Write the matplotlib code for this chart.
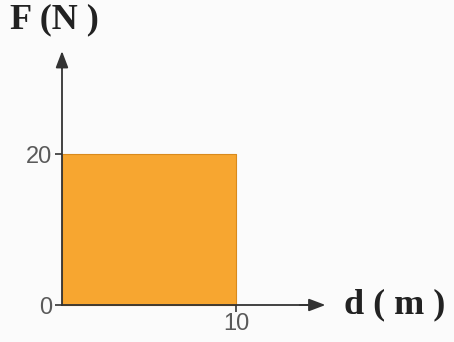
import matplotlib
matplotlib.use("Agg")
from matplotlib import pyplot as plt

# data
distance = [0, 10]        # d (m)
force = [20, 20]          # F (N)
x_ticks = [10]
y_ticks = [0, 20]

fig = plt.figure(figsize=(4.54, 3.42), dpi=100, facecolor="#fbfbfb")
ax = fig.add_axes([0, 0, 1, 1], facecolor="#fbfbfb")

# pixel mapping: x=0 -> 62px, x=10 -> 236px ; y=0 -> 305px, y=20 -> 154px
ax.set_xlim(-3.563, 22.53)
ax.set_ylim(-4.90, 40.40)

ax.fill_between(distance, 0, force, color="#f7a630", edgecolor="#d98a1c", linewidth=0.8, zorder=1)

axis_color = "#333333"
for side in ("top", "right"):
    ax.spines[side].set_visible(False)
ax.spines["left"].set_position(("data", 0))
ax.spines["bottom"].set_position(("data", 0))
ax.spines["left"].set_bounds(0, 33.0)
ax.spines["bottom"].set_bounds(0, 14.6)
for side in ("left", "bottom"):
    ax.spines[side].set_color(axis_color)
    ax.spines[side].set_linewidth(1.3)
    ax.spines[side].set_zorder(3)

# arrow heads
ax.annotate("", xy=(0, 34.0), xytext=(0, 31.0),
            arrowprops=dict(arrowstyle="-|>,head_length=1.0,head_width=0.38",
                            color=axis_color, lw=1.3))
ax.annotate("", xy=(15.3, 0), xytext=(13.5, 0),
            arrowprops=dict(arrowstyle="-|>,head_length=1.0,head_width=0.38",
                            color=axis_color, lw=1.3))

ax.set_xticks(x_ticks)
ax.set_xticklabels([str(t) for t in x_ticks])
ax.set_yticks(y_ticks)
ax.set_yticklabels([str(t) for t in y_ticks])
ax.tick_params(axis="both", colors=axis_color, labelcolor="#5a5a5a",
               labelsize=17, length=5, width=1.2, direction="out")
ax.tick_params(axis="y", pad=2)
ax.tick_params(axis="x", pad=1)
for lbl in ax.get_xticklabels() + ax.get_yticklabels():
    lbl.set_fontfamily("Liberation Sans")

ax.text(-3.0, 40.0, "F (N )", fontsize=26, fontweight="bold",
        family="Liberation Serif", color="#222222", ha="left", va="top")
ax.text(16.2, 0, "d ( m )", fontsize=26, fontweight="bold",
        family="Liberation Serif", color="#222222", ha="left", va="center")

fig.savefig("out.png", dpi=100, facecolor=fig.get_facecolor())
